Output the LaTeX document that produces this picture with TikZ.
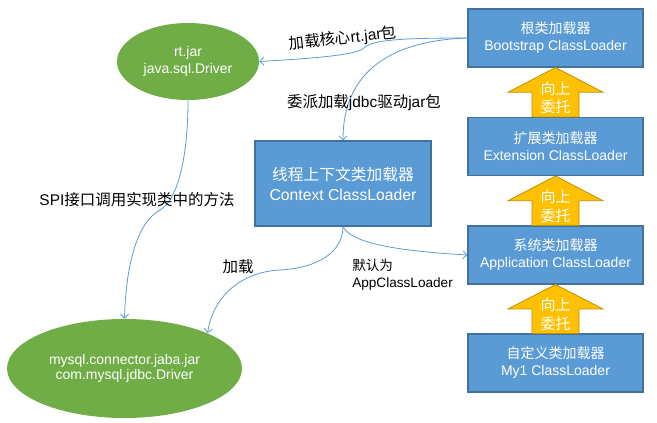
\documentclass[tikz,border=0pt]{standalone}
\usepackage{fontspec}
\setmainfont{Liberation Sans}
\newfontfamily\cjk{Noto Sans CJK SC}
\usetikzlibrary{calc,shapes.geometric,arrows.meta}
\definecolor{boxblue}{HTML}{5B9BD5}
\definecolor{boxline}{HTML}{41719C}
\definecolor{jargreen}{HTML}{70AD47}
\definecolor{upyellow}{HTML}{FFC000}
\definecolor{upline}{HTML}{C09000}
\newcommand{\delegateArrow}[2]{\path (#1.north) coordinate (lo) (#2.south) coordinate (hi);
  \filldraw[fill=upyellow,draw=upline,line width=0.6pt]
    ($(lo)+(-23.5,0)$) -- ($(lo)!0.5!(hi)+(-23.5,0)$) -- ($(lo)!0.5!(hi)+(-47.5,0)$) -- (hi)
    -- ($(lo)!0.5!(hi)+(47.5,0)$) -- ($(lo)!0.5!(hi)+(23.5,0)$) -- ($(lo)+(23.5,0)$) -- cycle;
  \node[uptext] at ($(lo)!0.39!(hi)$) {向上\\委托}}

\begin{document}
\begin{tikzpicture}[x=0.75pt,y=-0.75pt,
  loader/.style={draw=boxline,fill=boxblue,text=white,line width=0.8pt,inner sep=0pt,
    minimum width=131.25pt,minimum height=43.5pt,align=center,font=\fontsize{10.5}{12.75}\selectfont},
  jar/.style={ellipse,fill=jargreen,text=white,inner sep=0pt,align=center,
    font=\fontsize{10.5}{13}\selectfont},
  note/.style={inner sep=0pt,font=\fontsize{11.6}{14}\selectfont},
  uptext/.style={text=white,align=center,font=\cjk\fontsize{11.25}{14}\selectfont},
  link/.style={draw=boxblue,line width=0.6pt,-{Straight Barb[length=3pt,width=6pt]}}]
\useasboundingbox (0,0) rectangle (657,423);
% loaders:
\node[loader] (boot) at (555.5,38) {{\cjk 根类加载器}\\Bootstrap ClassLoader};
\node[loader] (ext) at (555.5,146.5) {{\cjk 扩展类加载器}\\Extension ClassLoader};
\node[loader] (app) at (555.5,255) {{\cjk 系统类加载器}\\Application ClassLoader};
\node[loader] (my1) at (555.5,363) {{\cjk 自定义类加载器}\\My1 ClassLoader};
\node[loader,minimum width=132pt,minimum height=63.75pt,font=\fontsize{11.8}{15}\selectfont]
  (ctx) at (343,183.5) {{\cjk 线程上下文类加载器}\\Context ClassLoader};
% jars:
\node[jar,minimum width=106.5pt,minimum height=57.75pt] (rt) at (188,61.5) {rt.jar\\java.sql.Driver};
\node[jar,minimum width=176.25pt,minimum height=74.25pt,font=\fontsize{10.5}{11.8}\selectfont]
  (mysql) at (124.5,368.5) {mysql.connector.jaba.jar\\com.mysql.jdbc.Driver};
% delegation:
\delegateArrow{ext}{boot};
\delegateArrow{app}{ext};
\delegateArrow{my1}{app};
% links:
\draw[link] (boot.west) .. controls (400,38) and (372,40) .. (364,48)
  .. controls (356,56) and (300,59) .. (rt.east);
\draw[link] (boot.west) .. controls (405,40) and (343,62) .. (ctx.north);
\draw[link] (rt.south) .. controls (188,150) and (180,198) .. (160,210)
  .. controls (138,222) and (126,262) .. (mysql.north);
\draw[link] (ctx.south) .. controls (343,252) and (318,268) .. (280,270)
  .. controls (238,272) and (212,300) .. (mysql.23);
\draw[link] (ctx.south) .. controls (350,240) and (380,250) .. (app.west);
% labels:
\node[note,rotate=6] (coreLbl) at (343,38.5) {{\cjk 加载核心}rt.jar{\cjk 包}};
\node[note] (jdbcLbl) at (364,103) {{\cjk 委派加载}jdbc{\cjk 驱动}jar{\cjk 包}};
\node[note] (spiLbl) at (137,200) {SPI{\cjk 接口调用实现类中的方法}};
\node[note] (loadLbl) at (238,267) {\cjk 加载};
\node[note,anchor=west,align=left,font=\fontsize{10.2}{12.5}\selectfont]
  (appLbl) at (352,275) {{\cjk 默认为}\\AppClassLoader};
\end{tikzpicture}
\end{document}
